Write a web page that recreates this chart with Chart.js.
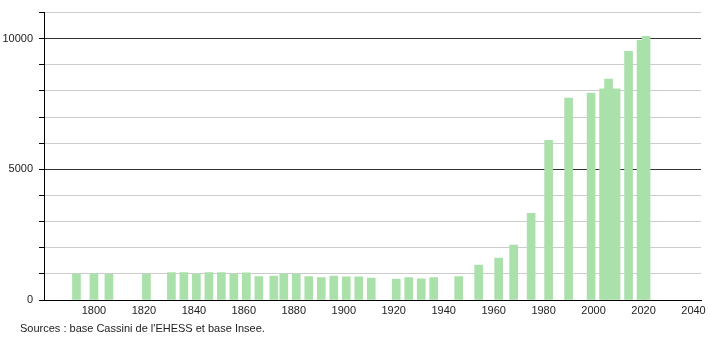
<!DOCTYPE html>
<html>
<head>
<meta charset="utf-8">
<script src="https://cdn.jsdelivr.net/npm/chart.js@4/dist/chart.umd.min.js"></script>
<style>
    body { margin: 0; background: #fff; }
    #wrap { position: relative; width: 710px; height: 340px; }
    #sources {
        position: absolute; left: 20px; top: 322px;
        font: 11px "Liberation Sans", Arial, sans-serif; color: #222;
    }
</style>
</head>
<body>
<div id="wrap">
    <canvas id="popChart" width="710" height="340"></canvas>
    <div id="sources">Sources : base Cassini de l'EHESS et base Insee.</div>
</div>
<script>
const years = [1793, 1800, 1806, 1821, 1831, 1836, 1841, 1846, 1851, 1856, 1861, 1866,
    1872, 1876, 1881, 1886, 1891, 1896, 1901, 1906, 1911, 1921, 1926, 1931, 1936,
    1946, 1954, 1962, 1968, 1975, 1982, 1990, 1999, 2004, 2006, 2009, 2014, 2019, 2021];
const population = [990, 1000, 985, 990, 1050, 1050, 990, 1050, 1050, 995, 1040, 900,
    920, 990, 990, 900, 860, 920, 890, 890, 835, 800, 860, 810, 860,
    900, 1340, 1600, 2100, 3320, 6110, 7730, 7920, 8080, 8460, 8080, 9520, 9940, 10090];
const xTicks = [1800, 1820, 1840, 1860, 1880, 1900, 1920, 1940, 1960, 1980, 2000, 2020, 2040];
const yLabels = [0, 5000, 10000];

document.addEventListener("DOMContentLoaded", () => {
    const ctx = document.getElementById('popChart').getContext('2d');
    const font = {family: '"Liberation Sans", Arial, sans-serif', size: 11};

    new Chart(ctx, {
        type: 'bar',
        data: {
            datasets: [{
                data: years.map((y, i) => ({x: y, y: population[i]})),
                backgroundColor: 'rgb(170, 224, 170)',
                borderWidth: 0,
                barThickness: 8
            }]
        },
        options: {
            responsive: false,
            animation: false,
            layout: {padding: {top: 10, right: 9, left: 0, bottom: 0}},
            plugins: {legend: {display: false}, tooltip: {enabled: false}},
            scales: {
                x: {
                    type: 'linear',
                    offset: false,
                    min: 1780,
                    max: 2043,
                    afterBuildTicks: (scale) => {
                        scale.ticks = xTicks.map(v => ({value: v}));
                    },
                    afterFit: (scale) => { scale.height = 40; },
                    grid: {display: false, drawTicks: false},
                    border: {display: true, color: '#000', width: 1},
                    ticks: {color: '#222', font: font, padding: 4, maxRotation: 0, autoSkip: false,
                        callback: v => String(v)}
                },
                y: {
                    min: 0,
                    max: 11000,
                    afterFit: (scale) => { scale.width = 44; },
                    grid: {
                        color: c => (c.tick.value === 5000 || c.tick.value === 10000) ? '#333' : '#ccc',
                        tickColor: '#000',
                        tickLength: 5
                    },
                    border: {display: true, color: '#000', width: 1},
                    ticks: {
                        stepSize: 1000,
                        color: '#222',
                        font: font,
                        padding: 6,
                        autoSkip: false,
                        callback: v => yLabels.includes(v) ? String(v) : ''
                    }
                }
            }
        }
    });
});
</script>
</body>
</html>
